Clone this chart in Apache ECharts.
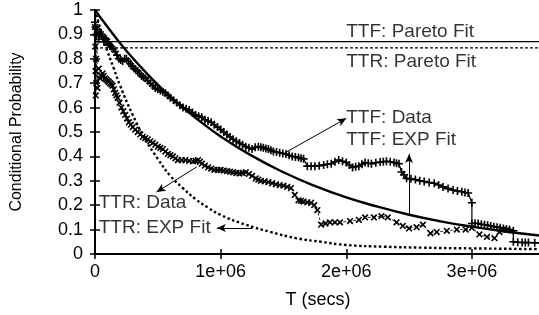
<!DOCTYPE html>
<html>
<head>
<meta charset="utf-8">
<script src="https://cdn.jsdelivr.net/npm/echarts@6/dist/echarts.min.js"></script>
<style>
  html, body { margin: 0; padding: 0; background: #fff; }
  #main { width: 539px; height: 315px; }
</style>
</head>
<body>
<div id="main"></div>
<script>
// time in units of 1e6 secs
var ttfExpT = [0, 0.1, 0.2, 0.3, 0.4, 0.5, 0.6, 0.8, 1.0, 1.25, 1.5, 1.75, 2.0, 2.25, 2.5, 2.75, 3.0, 3.25, 3.55];
var ttfExpV = [1, 0.93, 0.864, 0.803, 0.747, 0.694, 0.645, 0.558, 0.482, 0.402, 0.335, 0.279, 0.232, 0.194, 0.161, 0.134, 0.112, 0.093, 0.075];

var ttrExpT = [0, 0.05, 0.1, 0.15, 0.2, 0.3, 0.4, 0.5, 0.6, 0.7, 0.8, 0.9, 1.0, 1.2, 1.4, 1.6, 1.8, 2.0, 2.3, 2.6, 3.0, 3.55];
var ttrExpV = [1, 0.91, 0.83, 0.76, 0.69, 0.57, 0.47, 0.39, 0.32, 0.27, 0.225, 0.19, 0.16, 0.12, 0.09, 0.065, 0.05, 0.037, 0.03, 0.026, 0.023, 0.02];

var ttfPareto = 0.87;
var ttrPareto = 0.845;

var ttfData = [
  [0, 0.95], [0.005, 0.93], [0.01, 0.9], [0.02, 0.92], [0.03, 0.88], [0.04, 0.91], [0.05, 0.9], [0.06, 0.89],
  [0.07, 0.87], [0.08, 0.885], [0.09, 0.88], [0.1, 0.87], [0.11, 0.86], [0.12, 0.855], [0.13, 0.85],
  [0.145, 0.84], [0.16, 0.83], [0.175, 0.815], [0.19, 0.8], [0.205, 0.795], [0.22, 0.79], [0.235, 0.8],
  [0.25, 0.8], [0.265, 0.79], [0.28, 0.78], [0.295, 0.77], [0.31, 0.76], [0.325, 0.755], [0.34, 0.75],
  [0.355, 0.74], [0.37, 0.73], [0.385, 0.725], [0.4, 0.72], [0.42, 0.71], [0.44, 0.7], [0.46, 0.69],
  [0.48, 0.68], [0.5, 0.675], [0.52, 0.67], [0.54, 0.665], [0.56, 0.66], [0.58, 0.65], [0.6, 0.64],
  [0.625, 0.63], [0.65, 0.62], [0.675, 0.61], [0.7, 0.6], [0.725, 0.595], [0.75, 0.59], [0.775, 0.58],
  [0.8, 0.57], [0.825, 0.565], [0.85, 0.56], [0.875, 0.55], [0.9, 0.545], [0.925, 0.54], [0.95, 0.53],
  [0.975, 0.52], [1.0, 0.51], [1.025, 0.5], [1.05, 0.49], [1.075, 0.48], [1.1, 0.47], [1.125, 0.462],
  [1.15, 0.455], [1.175, 0.448], [1.2, 0.44], [1.225, 0.435], [1.25, 0.43], [1.275, 0.437], [1.3, 0.44],
  [1.32, 0.438], [1.34, 0.435], [1.36, 0.432], [1.38, 0.43], [1.4, 0.425], [1.42, 0.42], [1.445, 0.418],
  [1.47, 0.415], [1.495, 0.412], [1.52, 0.41], [1.545, 0.405], [1.57, 0.4], [1.595, 0.398], [1.62, 0.395],
  [1.64, 0.392], [1.66, 0.39], [1.69, 0.36], [1.72, 0.36], [1.75, 0.36], [1.785, 0.362], [1.82, 0.365],
  [1.85, 0.368], [1.88, 0.37], [1.91, 0.378], [1.94, 0.385], [1.97, 0.38], [2.0, 0.375], [2.025, 0.365],
  [2.05, 0.355], [2.075, 0.358], [2.1, 0.36], [2.125, 0.368], [2.15, 0.375], [2.175, 0.372], [2.2, 0.37],
  [2.235, 0.374], [2.27, 0.377], [2.295, 0.378], [2.32, 0.38], [2.35, 0.378], [2.38, 0.375], [2.4, 0.372],
  [2.42, 0.37], [2.44, 0.336], [2.46, 0.325], [2.48, 0.31], [2.515, 0.308], [2.55, 0.305], [2.585, 0.3],
  [2.62, 0.297], [2.66, 0.293], [2.7, 0.29], [2.735, 0.283], [2.77, 0.275], [2.81, 0.268], [2.85, 0.262],
  [2.885, 0.258], [2.92, 0.255], [2.945, 0.252], [2.97, 0.25], [3.0, 0.21], [3.0, 0.125], [3.025, 0.126],
  [3.05, 0.125], [3.075, 0.122], [3.1, 0.12], [3.125, 0.118], [3.15, 0.115], [3.175, 0.112], [3.2, 0.11],
  [3.225, 0.108], [3.25, 0.105], [3.275, 0.102], [3.3, 0.1], [3.33, 0.095], [3.33, 0.05], [3.365, 0.048],
  [3.4, 0.047], [3.425, 0.047], [3.45, 0.047], [3.5, 0.046], [3.55, 0.046]
];

var ttrData = [
  [0, 0.93], [0.002, 0.85], [0.004, 0.75], [0.006, 0.65], [0.008, 0.8], [0.01, 0.7], [0.015, 0.9],
  [0.02, 0.68], [0.03, 0.76], [0.04, 0.72], [0.05, 0.73], [0.06, 0.74], [0.07, 0.73], [0.08, 0.72],
  [0.09, 0.715], [0.1, 0.71], [0.11, 0.705], [0.12, 0.7], [0.13, 0.695], [0.14, 0.69], [0.15, 0.675],
  [0.16, 0.66], [0.17, 0.65], [0.18, 0.64], [0.195, 0.62], [0.21, 0.6], [0.225, 0.585], [0.24, 0.57],
  [0.255, 0.555], [0.27, 0.54], [0.285, 0.53], [0.3, 0.52], [0.32, 0.51], [0.34, 0.5], [0.36, 0.49],
  [0.38, 0.48], [0.4, 0.475], [0.42, 0.47], [0.44, 0.462], [0.46, 0.455], [0.48, 0.448], [0.5, 0.44],
  [0.52, 0.435], [0.54, 0.43], [0.56, 0.42], [0.58, 0.41], [0.6, 0.405], [0.62, 0.4], [0.64, 0.392],
  [0.66, 0.385], [0.69, 0.385], [0.72, 0.385], [0.75, 0.382], [0.78, 0.38], [0.8, 0.382], [0.82, 0.385],
  [0.835, 0.378], [0.85, 0.37], [0.875, 0.362], [0.9, 0.355], [0.925, 0.35], [0.95, 0.345], [0.975, 0.345],
  [1.0, 0.345], [1.025, 0.342], [1.05, 0.34], [1.075, 0.338], [1.1, 0.335], [1.125, 0.332], [1.15, 0.33],
  [1.175, 0.332], [1.2, 0.335], [1.225, 0.328], [1.25, 0.32], [1.28, 0.31], [1.3, 0.305], [1.32, 0.3],
  [1.35, 0.298], [1.38, 0.295], [1.41, 0.29], [1.44, 0.285], [1.47, 0.282], [1.5, 0.28], [1.53, 0.275],
  [1.56, 0.27], [1.59, 0.242], [1.62, 0.22], [1.64, 0.218], [1.66, 0.215], [1.69, 0.212], [1.72, 0.21],
  [1.745, 0.2], [1.77, 0.18], [1.8, 0.12], [1.835, 0.125], [1.87, 0.13], [1.91, 0.13], [1.95, 0.13],
  [2.03, 0.135], [2.1, 0.14], [2.15, 0.15], [2.22, 0.15], [2.28, 0.155], [2.33, 0.15], [2.4, 0.13],
  [2.45, 0.115], [2.5, 0.105], [2.56, 0.11], [2.61, 0.12], [2.67, 0.085], [2.72, 0.09], [2.8, 0.095],
  [2.88, 0.1], [2.95, 0.1], [3.0, 0.107], [3.06, 0.08], [3.12, 0.07], [3.18, 0.065], [3.22, 0.09],
  [3.28, 0.1]
];

// annotation text and arrows (data coordinates)
var notes = [
  { text: 'TTF: Pareto Fit', at: [2.0, 0.911] },
  { text: 'TTR: Pareto Fit', at: [2.0, 0.788] },
  { text: 'TTF: Data', at: [2.0, 0.557] },
  { text: 'TTF: EXP Fit', at: [2.0, 0.467] },
  { text: 'TTR: Data', at: [0.03, 0.209] },
  { text: 'TTR: EXP Fit', at: [0.03, 0.107] }
];
var arrows = [
  [[1.51, 0.414], [2.0, 0.556]],
  [[2.5, 0.16], [2.5, 0.41]],
  [[0.81, 0.357], [0.49, 0.254]],
  [[1.25, 0.107], [0.97, 0.107]]
];

function zip(xs, ys) {
  return xs.map(function (x, i) { return [x, ys[i]]; });
}

var XMAX = 3.55;
var plusPath = 'path://M4,0H6V4H10V6H6V10H4V6H0V4H4Z';

var chart = echarts.init(document.getElementById('main'));

var axisCommon = {
  axisLine: { show: true, lineStyle: { color: '#000', width: 2 } },
  axisTick: { show: true, inside: true, length: 5, lineStyle: { color: '#000', width: 1.5 } },
  splitLine: { show: false }
};

chart.setOption({
  animation: false,
  backgroundColor: '#fff',
  textStyle: { fontFamily: 'Liberation Sans, Arial, sans-serif' },
  grid: { left: 95, top: 10, width: 446, bottom: 61, outerBoundsMode: 'none' },
  xAxis: [
    Object.assign({}, axisCommon, {
      type: 'value', min: 0, max: XMAX, interval: 1, position: 'bottom',
      name: 'T (secs)', nameLocation: 'middle', nameGap: 37,
      nameTextStyle: { fontSize: 18, color: '#000' },
      axisLabel: {
        fontSize: 18, color: '#000', margin: 9, showMaxLabel: false,
        formatter: function (v) { return v === 0 ? '0' : v + 'e+06'; }
      }
    }),
    Object.assign({}, axisCommon, {
      type: 'value', min: 0, max: XMAX, interval: 1, position: 'top',
      axisLabel: { show: false }
    })
  ],
  yAxis: [
    Object.assign({}, axisCommon, {
      type: 'value', min: 0, max: 1, interval: 0.1, position: 'left',
      name: 'Conditional Probability', nameLocation: 'middle', nameGap: 70,
      nameTextStyle: { fontSize: 16, color: '#000' },
      axisLabel: {
        fontSize: 18, color: '#000', margin: 12,
        formatter: function (v) { return String(Math.round(v * 10) / 10); }
      }
    }),
    Object.assign({}, axisCommon, {
      type: 'value', min: 0, max: 1, interval: 0.1, position: 'right',
      axisLabel: { show: false }
    })
  ],
  series: [
    {
      name: 'TTF: Pareto Fit', type: 'line', symbol: 'none',
      data: [[0, ttfPareto], [XMAX, ttfPareto]],
      lineStyle: { color: '#000', width: 1.2 }
    },
    {
      name: 'TTR: Pareto Fit', type: 'line', symbol: 'none',
      data: [[0, ttrPareto], [XMAX, ttrPareto]],
      lineStyle: { color: '#000', width: 1.2, type: [3, 2] }
    },
    {
      name: 'TTF: EXP Fit', type: 'line', symbol: 'none', smooth: true,
      data: zip(ttfExpT, ttfExpV),
      lineStyle: { color: '#000', width: 2.4 }
    },
    {
      name: 'TTR: EXP Fit', type: 'line', symbol: 'none', smooth: true,
      data: zip(ttrExpT, ttrExpV),
      lineStyle: { color: '#000', width: 2.4, type: [2.5, 2.5] }
    },
    {
      name: 'TTF: Data', type: 'line', symbol: plusPath, symbolSize: 8,
      showAllSymbol: true,
      data: ttfData,
      itemStyle: { color: '#000' },
      lineStyle: { color: '#000', width: 1.2 }
    },
    {
      name: 'TTR: Data', type: 'line', symbol: plusPath, symbolSize: 8, symbolRotate: 45,
      showAllSymbol: true,
      data: ttrData,
      itemStyle: { color: '#000' },
      lineStyle: { color: '#000', width: 0.8, type: [3, 2] }
    },
    {
      name: 'notes', type: 'scatter', symbolSize: 0, silent: true,
      data: notes.map(function (n) { return { value: n.at, name: n.text }; }),
      label: {
        show: true, position: 'right', distance: 0,
        formatter: '{b}', fontSize: 19, color: '#000'
      },
      markLine: {
        silent: true, symbol: ['none', 'arrow'], symbolSize: [6, 9],
        label: { show: false },
        lineStyle: { color: '#000', width: 1, type: 'solid' },
        data: arrows.map(function (a) {
          return [{ coord: a[0] }, { coord: a[1] }];
        })
      }
    }
  ]
});
</script>
</body>
</html>
